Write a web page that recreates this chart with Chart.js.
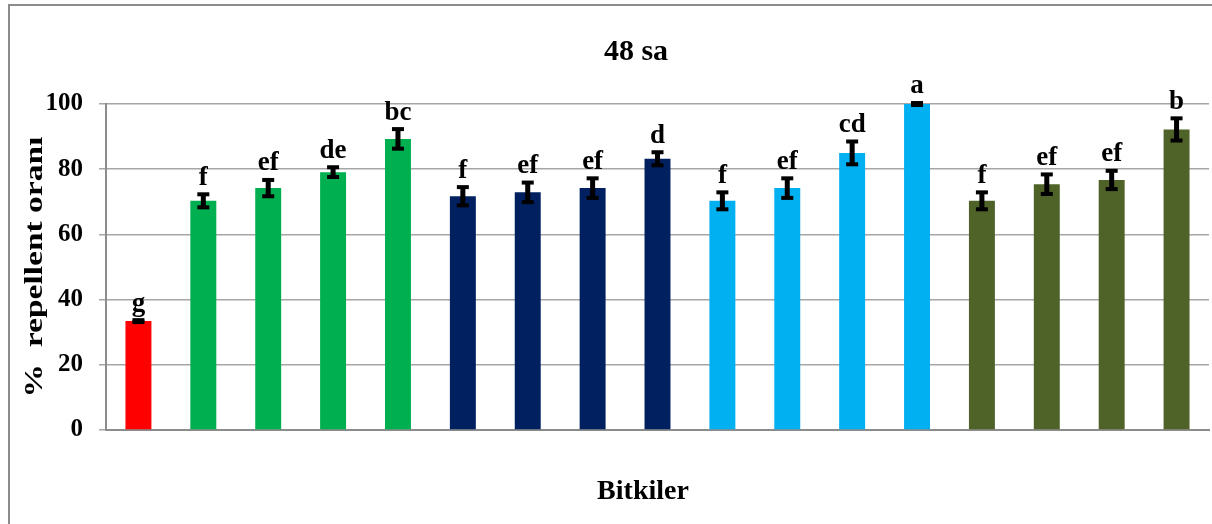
<!DOCTYPE html>
<html>
<head>
<meta charset="utf-8">
<script src="https://cdn.jsdelivr.net/npm/chart.js@4/dist/chart.umd.min.js"></script>
<style>
  html, body { margin: 0; padding: 0; background: #fff; }
  #wrap { width: 1212px; height: 524px; }
</style>
</head>
<body>
<div id="wrap"><canvas id="myChart" width="1212" height="524"></canvas></div>
<script>
// data
var plants = ['1', '2', '3', '4', '5', '6', '7', '8', '9', '10', '11', '12', '13', '14', '15', '16', '17'];
var repellent = [33.4, 70.3, 74.2, 79.1, 89.3, 71.7, 72.9, 74.2, 83.2, 70.3, 74.2, 85.0, 100, 70.3, 75.4, 76.7, 92.2];
var stdErr = [0.3, 2.0, 2.5, 1.5, 3.0, 2.8, 3.0, 3.0, 2.0, 2.6, 3.0, 3.5, 0.3, 2.6, 3.0, 2.8, 3.4];
var letters = ['g', 'f', 'ef', 'de', 'bc', 'f', 'ef', 'ef', 'd', 'f', 'ef', 'cd', 'a', 'f', 'ef', 'ef', 'b'];
var barColors = ['#FF0000',
    '#00B050', '#00B050', '#00B050', '#00B050',
    '#002060', '#002060', '#002060', '#002060',
    '#00B0F0', '#00B0F0', '#00B0F0', '#00B0F0',
    '#4F6228', '#4F6228', '#4F6228', '#4F6228'];
var yTicks = [0, 20, 40, 60, 80, 100];
var chartTitle = '48 sa';
var xTitle = 'Bitkiler';
var yTitle = '%  repellent oranı';

var serif = '"Liberation Serif", "Times New Roman", serif';

// outer frame, like the Excel chart border, plus the titles
var framePlugin = {
    id: 'frame',
    beforeDraw: function (chart) {
        var ctx = chart.ctx;
        ctx.save();
        ctx.fillStyle = '#fff';
        ctx.fillRect(0, 0, chart.width, chart.height);
        ctx.strokeStyle = '#8c8c8c';
        ctx.lineWidth = 2;
        ctx.strokeRect(9, 5, chart.width + 20, chart.height + 20);
        ctx.restore();
    },
    afterDraw: function (chart) {
        var ctx = chart.ctx;
        ctx.save();
        ctx.fillStyle = '#000';
        ctx.textAlign = 'center';
        ctx.textBaseline = 'middle';
        ctx.font = 'bold 30px ' + serif;
        ctx.fillText(chartTitle, 636, 52);
        ctx.font = 'bold 28px ' + serif;
        ctx.fillText(xTitle, 643, 492);
        // y title: rotated, a bit stretched along its length like the original
        ctx.translate(36, 267);
        ctx.rotate(-Math.PI / 2);
        ctx.scale(1.34, 1);
        ctx.font = 'bold 25px ' + serif;
        ctx.fillText(yTitle, 0, 0);
        ctx.restore();
    }
};

// error bars and significance letters
var errorPlugin = {
    id: 'errors',
    afterDatasetsDraw: function (chart) {
        var ctx = chart.ctx;
        var meta = chart.getDatasetMeta(0);
        var y = chart.scales.y;
        ctx.save();
        ctx.fillStyle = '#000';
        meta.data.forEach(function (bar, i) {
            var v = repellent[i], e = stdErr[i];
            var top = y.getPixelForValue(v + e);
            var bot = y.getPixelForValue(v - e);
            var x = bar.x;
            // stem
            ctx.fillRect(x - 2.5, top, 5, bot - top);
            // caps
            ctx.fillRect(x - 6, top - 2, 12, 4);
            ctx.fillRect(x - 6, bot - 2, 12, 4);
            // letter
            ctx.font = 'bold 27px ' + serif;
            ctx.textAlign = 'center';
            ctx.textBaseline = 'bottom';
            ctx.fillText(letters[i], x, top - 3);
        });
        ctx.restore();
    }
};

var ctx = document.getElementById('myChart').getContext('2d');
var myChart = new Chart(ctx, {
    type: 'bar',
    data: {
        labels: plants,
        datasets: [{
            data: repellent,
            backgroundColor: barColors,
            borderWidth: 0,
            barPercentage: 0.4,
            categoryPercentage: 1.0
        }]
    },
    options: {
        responsive: false,
        animation: false,
        layout: { padding: { left: 0, right: 3, top: 104, bottom: 0 } },
        plugins: {
            legend: { display: false },
            tooltip: { enabled: false },
            title: { display: false }
        },
        scales: {
            x: {
                grid: { display: false, drawTicks: false },
                border: { display: true, color: '#8c8c8c', width: 2 },
                ticks: { display: false },
                afterFit: function (scale) { scale.height = 94; }
            },
            y: {
                min: 0,
                max: 100,
                afterBuildTicks: function (scale) {
                    scale.ticks = yTicks.map(function (v) { return { value: v }; });
                },
                grid: { color: '#a6a6a6', lineWidth: 1.5, tickLength: 7 },
                border: { display: true, color: '#8c8c8c', width: 2 },
                ticks: {
                    color: '#000',
                    padding: 16,
                    font: { family: serif, size: 25, weight: 'bold' }
                },
                afterFit: function (scale) { scale.width = 106; }
            }
        }
    },
    plugins: [framePlugin, errorPlugin]
});
</script>
</body>
</html>
